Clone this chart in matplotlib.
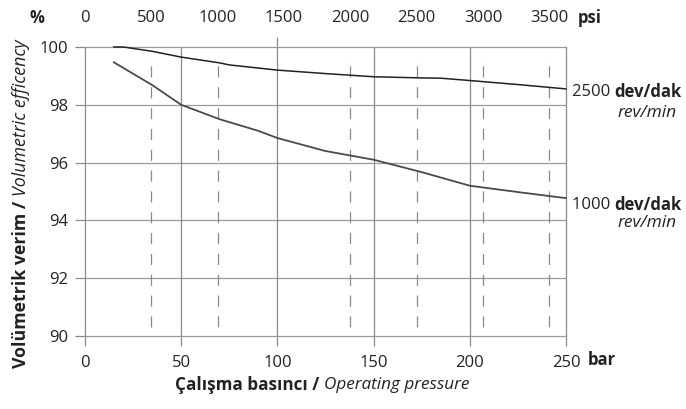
import matplotlib
matplotlib.use("Agg")
import matplotlib.pyplot as plt
import numpy as np

plt.rcParams['font.family'] = ['Open Sans', 'DejaVu Sans']
plt.rcParams['lines.scale_dashes'] = False

# operating pressure [bar] and volumetric efficiency [%]
p_2500 = [15, 20, 35, 50, 70, 75, 100, 125, 150, 175, 185, 200, 225, 250]
eff_2500 = [100.0, 100.0, 99.85, 99.65, 99.45, 99.38, 99.2, 99.08, 98.97, 98.93, 98.92, 98.84, 98.7, 98.55]
p_1000 = [15, 35, 50, 70, 90, 100, 125, 150, 175, 200, 225, 250]
eff_1000 = [99.47, 98.68, 98.0, 97.5, 97.1, 96.85, 96.4, 96.1, 95.67, 95.2, 94.98, 94.77]

bar_ticks = [0, 50, 100, 150, 200, 250]
eff_ticks = [90, 92, 94, 96, 98, 100]
psi_ticks = [0, 500, 1000, 1500, 2000, 2500, 3000, 3500]
psi_dashed = [500, 1000, 2000, 2500, 3000, 3500]

PSI_PER_BAR = 14.5038


def bar2psi(b):
    return np.asarray(b) * PSI_PER_BAR


def psi2bar(p):
    return np.asarray(p) / PSI_PER_BAR


grid_c = '#8a8a8a'
hgrid_c = '#9a9a9a'
txt_c = '#222222'

fig = plt.figure(figsize=(6.86, 4.09), dpi=100)
ax = fig.add_axes([0.1239, 0.1785, 0.7012, 0.7066])
ax.set_xlim(0, 250)
ax.set_ylim(90, 100)

for s in ax.spines.values():
    s.set_color(grid_c)
    s.set_linewidth(0.9)
ax.spines['bottom'].set_color(hgrid_c)
ax.spines['top'].set_color(hgrid_c)

# grid
for y in eff_ticks[1:-1]:
    ax.axhline(y, color=hgrid_c, lw=0.9, zorder=1)
for x in bar_ticks[1:-1]:
    ax.axvline(x, color=grid_c, lw=0.9, zorder=1)
for p in psi_dashed:
    ax.axvline(psi2bar(p), ymin=0.03, ymax=0.97, color=grid_c, lw=0.9,
               ls=(0, (8, 7)), zorder=1)

ax.set_xticks(bar_ticks)
ax.set_yticks(eff_ticks)
ax.tick_params(axis='both', direction='out', length=7, width=0.9, color=grid_c,
               labelsize=12, labelcolor=txt_c)
ax.tick_params(axis='x', pad=6.5)
ax.tick_params(axis='y', pad=5)

# top psi axis
sec = ax.secondary_xaxis('top', functions=(bar2psi, psi2bar))
sec.set_xticks(psi_ticks)
sec.set_xticks(psi_dashed + [100 * PSI_PER_BAR], minor=True)
sec.tick_params(which='major', length=0, pad=15, labelsize=12, labelcolor=txt_c)
sec.tick_params(which='minor', length=7, width=0.9, color=grid_c, direction='out')
sec.spines['top'].set_visible(False)

# curves
ax.plot(p_2500, eff_2500, color='#222222', lw=1.1, zorder=3, clip_on=False)
ax.plot(p_1000, eff_1000, color='#4a4a4a', lw=1.3, zorder=3, clip_on=False)

# axis titles, bold Turkish part + italic English part
ylab = fig.text(21 / 686, 1 - 368 / 409, 'Volümetrik verim / ', fontsize=12.8,
                fontweight='bold', color=txt_c, rotation=90, ha='center', va='bottom')
ax.annotate('Volumetric efficency', xy=(0.5, 1), xycoords=ylab, fontsize=12.8,
            style='italic', color=txt_c, rotation=90, ha='center', va='bottom')

xlab = fig.text(175 / 686, 1 - 385 / 409, 'Çalışma basıncı / ', fontsize=12.3,
                fontweight='bold', color=txt_c, ha='left', va='center')
ax.annotate('Operating pressure', xy=(1, 0.5), xycoords=xlab, fontsize=12.3,
            style='italic', color=txt_c, ha='left', va='center')

fig.text(37 / 686, 1 - 18 / 409, '%', fontsize=12, fontweight='bold', color=txt_c,
         ha='center', va='center')
fig.text(590 / 686, 1 - 18 / 409, 'psi', fontsize=12, fontweight='bold', color=txt_c,
         ha='center', va='center')
fig.text(602 / 686, 1 - 360 / 409, 'bar', fontsize=12, fontweight='bold', color=txt_c,
         ha='center', va='center')

for y_main, y_sub, rpm in [(92, 113, '2500'), (205, 223, '1000')]:
    t = fig.text(572 / 686, 1 - y_main / 409, rpm + ' ', fontsize=12,
                 color=txt_c, ha='left', va='center')
    ax.annotate('dev/dak', xy=(1, 0.5), xycoords=t, fontsize=12, fontweight='bold',
                color=txt_c, ha='left', va='center')
    fig.text(677 / 686, 1 - y_sub / 409, 'rev/min', fontsize=12.5, style='italic',
             color=txt_c, ha='right', va='center')

fig.savefig('out.png', dpi=100)
